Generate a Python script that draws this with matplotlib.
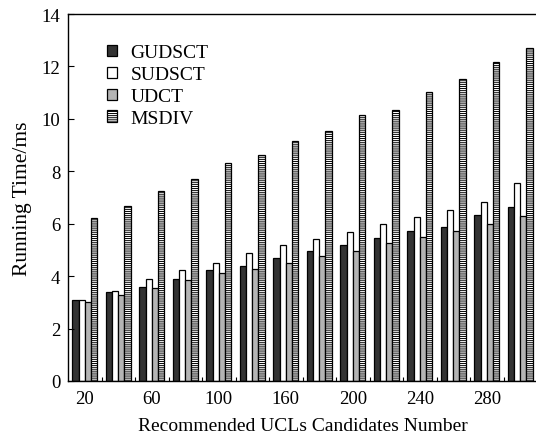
import numpy as np
import matplotlib
matplotlib.use('Agg')
import matplotlib.pyplot as plt

plt.rcParams['font.family'] = ['Liberation Serif', 'DejaVu Serif']
plt.rcParams['hatch.linewidth'] = 0.7

# group order on the x axis (14 groups)
groups = np.arange(14)
tick_pos = [0, 2, 4, 6, 8, 10, 12]
tick_labels = ['20', '60', '100', '160', '200', '240', '280']

gudsct = [3.10, 3.38, 3.60, 3.88, 4.25, 4.39, 4.69, 4.97, 5.19, 5.46, 5.71, 5.89, 6.33, 6.65]
sudsct = [3.10, 3.42, 3.88, 4.22, 4.49, 4.87, 5.18, 5.42, 5.70, 5.98, 6.26, 6.51, 6.83, 7.55]
udct   = [3.01, 3.29, 3.56, 3.84, 4.11, 4.26, 4.49, 4.77, 4.95, 5.28, 5.48, 5.72, 5.98, 6.28]
msdiv  = [6.22, 6.69, 7.23, 7.72, 8.30, 8.61, 9.17, 9.53, 10.16, 10.35, 11.01, 11.52, 12.17, 12.72]

fig = plt.figure(figsize=(5.36, 4.39), dpi=100)
ax = fig.add_axes([68/536, 57/439, 469/536, 367/439])

w = 0.185
ax.bar(groups - 1.5*w, gudsct, w, color='#333333', edgecolor='black', linewidth=0.9, label='GUDSCT')
ax.bar(groups - 0.5*w, sudsct, w, color='white', edgecolor='black', linewidth=0.9, label='SUDSCT')
ax.bar(groups + 0.5*w, udct, w, color='#b4b4b4', edgecolor='black', linewidth=0.9, label='UDCT')
ax.bar(groups + 1.5*w, msdiv, w, color='white', edgecolor='black', linewidth=0.9,
       hatch='--------', label='MSDIV')

ax.set_xlim(-0.5, 13.5)
ax.set_ylim(0, 14)
ax.set_yticks(range(0, 15, 2))
ax.set_xticks(tick_pos)
ax.set_xticklabels(tick_labels)
ax.set_xticks(np.arange(0.5, 13, 1), minor=True)
ax.tick_params(axis='x', which='major', length=0, labelsize=13.5, pad=6.5)
ax.tick_params(axis='x', which='minor', direction='in', length=3, width=0.8)
ax.tick_params(axis='y', direction='in', length=4, width=0.8, labelsize=13.5, pad=5.5)
for s in ax.spines.values():
    s.set_linewidth(1.0)

ax.set_xlabel('Recommended UCLs Candidates Number', fontsize=14, labelpad=7)
ax.set_ylabel('Running Time/ms', fontsize=15.5, labelpad=7)

ax.legend(loc='upper left', bbox_to_anchor=(0.045, 0.965), frameon=False, fontsize=14,
          handlelength=0.52, handleheight=0.52, handletextpad=0.7, labelspacing=0.25)

fig.savefig('out.png', dpi=100)
